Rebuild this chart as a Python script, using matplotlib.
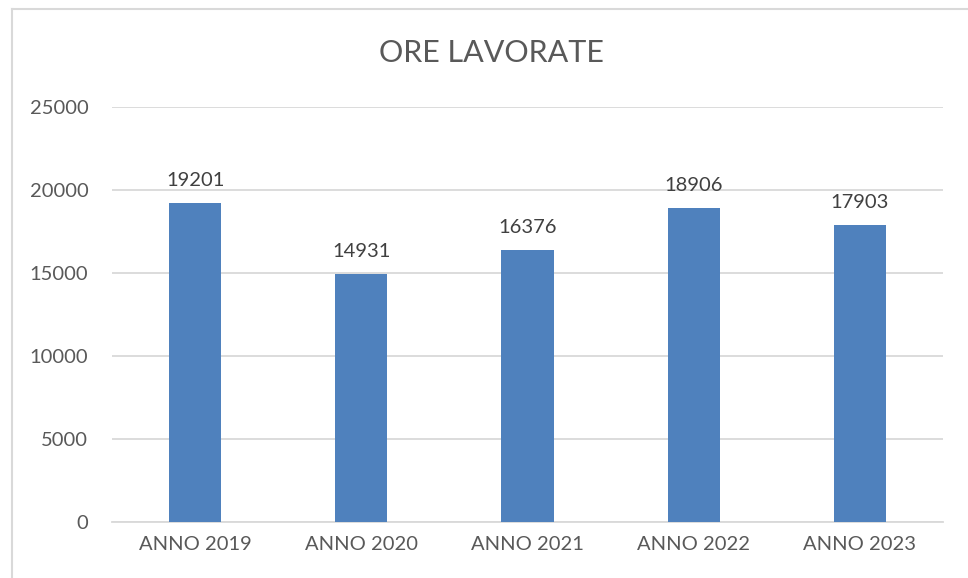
import matplotlib
matplotlib.use("Agg")
import matplotlib.pyplot as plt
from matplotlib.lines import Line2D

categories = ["ANNO 2019", "ANNO 2020", "ANNO 2021", "ANNO 2022", "ANNO 2023"]
values = [19201, 14931, 16376, 18906, 17903]
yticks = [0, 5000, 10000, 15000, 20000, 25000]
title = "ORE LAVORATE"

plt.rcParams['font.family'] = ['Lato', 'DejaVu Sans']
W, H = 968, 578
fig = plt.figure(figsize=(W / 100, H / 100), dpi=100)
fig.patch.set_facecolor("white")

# outer chart border: only left and top edges are visible
bx, by = 11.5 / W, 1 - 8.5 / H
fig.lines.append(Line2D([bx, bx], [-0.05, by], transform=fig.transFigure,
                        color="#D9D9D9", linewidth=1.5))
fig.lines.append(Line2D([bx, 1.05], [by, by], transform=fig.transFigure,
                        color="#D9D9D9", linewidth=1.5))

left, right = 112 / W, 943 / W
bottom, top = 1 - 522 / H, 1 - 107 / H
ax = fig.add_axes([left, bottom, right - left, top - bottom])
x = list(range(len(categories)))
ax.bar(x, values, width=0.313, color="#4F81BD", zorder=3)
ax.set_xlim(-0.5, len(categories) - 0.5)
ax.set_ylim(0, 25000)
ax.set_yticks(yticks)
ax.set_yticklabels([str(t) for t in yticks])
ax.set_xticks(x)
ax.set_xticklabels(categories)
ax.grid(axis="y", color="#D9D9D9", linewidth=1.3, zorder=0)
for s in ["top", "right", "left"]:
    ax.spines[s].set_visible(False)
ax.spines["bottom"].set_color("#D9D9D9")
ax.spines["bottom"].set_linewidth(1.3)
ax.tick_params(axis="both", length=0, colors="#595959", labelsize=14.5)
ax.tick_params(axis="y", pad=17)
ax.tick_params(axis="x", pad=10)
for xi, v in zip(x, values):
    ax.annotate(str(v), (xi, v), xytext=(0, 10), textcoords="offset points",
                ha="center", va="bottom", fontsize=14.5, color="#404040")
fig.text(491 / W, 1 - 53 / H, title, ha="center", va="center", fontsize=22, color="#595959")
fig.savefig("out.png", dpi=100, facecolor="white")
